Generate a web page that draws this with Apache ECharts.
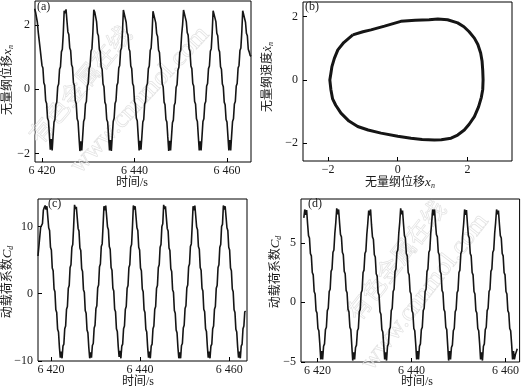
<!DOCTYPE html>
<html><head><meta charset="utf-8">
<script src="https://cdn.jsdelivr.net/npm/echarts@6/dist/echarts.min.js"></script>
<style>html,body{margin:0;padding:0;background:#fff}#c{width:522px;height:388px}</style>
</head><body><div id="c"></div>
<script>
// ---------- data ----------
// (a) dimensionless displacement vs time, sampled every 0.2 s from aStart
const aStart = 6418.4, aStep = 0.2;
const aValues = [
 2.5, 2.4, 2.46, 2.08, 1.76, 1.7, 1.26, 1.2, 0.74, 0.66, 0.2, 0.12, -0.36, -0.44, -0.9, -0.98, -1.42, -1.88, -1.55, -1.9, -1.44, -1.02, -0.94, -0.48, -0.4, 0.08, 0.16, 0.62, 0.7, 1.16, 1.24, 1.72,
 2.44, 2.36, 2.48, 2.12, 1.78, 1.7, 1.28, 1.2, 0.76, 0.68, 0.2, 0.12, -0.36, -0.44, -0.92, -1.0, -1.48, -1.92, -1.62, -1.9, -1.46, -1.0, -0.92, -0.46, -0.38, 0.1, 0.18, 0.64, 0.72, 1.18, 1.26, 1.76,
 2.47, 2.4, 2.46, 2.1, 1.74, 1.66, 1.24, 1.16, 0.7, 0.62, 0.16, 0.08, -0.4, -0.48, -0.94, -1.02, -1.46, -1.9, -1.58, -1.92, -1.44, -1.0, -0.9, -0.44, -0.36, 0.12, 0.2, 0.66, 0.74, 1.2, 1.28, 1.78,
 2.46, 2.5, 2.42, 2.08, 1.76, 1.68, 1.26, 1.18, 0.72, 0.64, 0.18, 0.1, -0.38, -0.46, -0.9, -0.98, -1.44, -1.9, -1.6, -1.88, -1.46, -1.02, -0.94, -0.46, -0.38, 0.1, 0.18, 0.64, 0.72, 1.2, 1.28, 1.74,
 2.42, 2.48, 2.4, 2.06, 1.72, 1.64, 1.22, 1.14, 0.7, 0.62, 0.16, 0.08, -0.4, -0.48, -0.94, -1.02, -1.48, -1.92, -1.6, -1.9, -1.48, -1.04, -0.96, -0.5, -0.42, 0.06, 0.14, 0.6, 0.68, 1.14, 1.22, 1.7, 2.0,
 2.46, 2.4, 2.48, 2.1, 1.76, 1.68, 1.26, 1.18, 0.72, 0.64, 0.18, 0.1, -0.38, -0.46, -0.92, -1.0, -1.46, -1.9, -1.62, -1.9, -1.46, -1.0, -0.92, -0.46, -0.38, 0.1, 0.18, 0.64, 0.72, 1.18, 1.26, 1.76,
 2.44, 2.38, 2.46, 2.1, 1.74, 1.66, 1.24, 1.16, 0.7, 0.62, 0.16, 0.08, -0.4, -0.48, -0.94, -1.02, -1.46, -1.9, -1.58, -1.9, -1.44, -1.0, -0.92, -0.46, -0.38, 0.1, 0.18, 0.66, 0.74, 1.2, 1.28, 1.78,
 2.44, 2.48, 2.4, 2.08, 1.74, 1.66, 1.24, 1.16, 1.05, 1.02
];
// (b) phase portrait: displacement / velocity around the limit cycle
const bX = [-1.29, -1.0, -0.77, -0.38, 0.09, 0.5, 0.9, 1.15, 1.43, 1.72, 1.9, 2.05, 2.2, 2.3, 2.38, 2.42, 2.44, 2.45, 2.44, 2.4, 2.32, 2.2, 2.05, 1.91, 1.72, 1.53, 1.25, 1.05, 0.7, 0.38, 0.0, -0.48, -0.85, -1.15, -1.4, -1.63, -1.78, -1.87, -1.92, -1.95, -1.92, -1.89, -1.82, -1.72, -1.55, -1.4, -1.29];
const bV = [1.42, 1.52, 1.58, 1.70, 1.85, 1.88, 1.9, 1.92, 1.9, 1.80, 1.68, 1.52, 1.32, 1.12, 0.85, 0.6, 0.3, 0.0, -0.3, -0.55, -0.85, -1.16, -1.4, -1.58, -1.74, -1.84, -1.89, -1.9, -1.88, -1.84, -1.78, -1.68, -1.58, -1.47, -1.3, -1.05, -0.8, -0.6, -0.3, 0.0, 0.2, 0.42, 0.68, 0.95, 1.18, 1.32, 1.42];
// (c) dynamic load coefficient vs time
const cStart = 6417.1, cStep = 0.2;
const cValues = [
 5.6, 5.7, 5.8, 9.9, 10.1, 10.4, 12.4, 12.8,
 13.1, 12.5, 13.0, 11.4, 9.8, 9.4, 6.9, 6.5, 3.8, 3.4, 0.7, 0.3, -2.4, -2.8, -5.3, -5.7, -7.9, -9.5, -8.6, -9.6, -7.8, -7.5, -5.2, -4.8, -2.3, -1.9, 0.8, 1.2, 3.9, 4.3, 6.9, 7.3, 10.0,
 13.2, 12.6, 12.9, 11.3, 9.7, 9.3, 6.8, 6.4, 3.7, 3.3, 0.6, 0.2, -2.5, -2.9, -5.4, -5.8, -8.0, -9.6, -8.7, -9.5, -7.7, -7.4, -5.1, -4.7, -2.2, -1.8, 0.9, 1.3, 4.0, 4.4, 7.0, 7.4, 10.1,
 13.0, 12.4, 13.1, 11.5, 9.9, 9.5, 7.0, 6.6, 3.9, 3.5, 0.8, 0.4, -2.3, -2.7, -5.2, -5.6, -7.8, -9.4, -8.5, -9.6, -7.8, -7.5, -5.2, -4.8, -2.3, -1.9, 0.8, 1.2, 3.9, 4.3, 6.9, 7.3, 10.0,
 13.1, 12.5, 13.0, 11.4, 9.8, 9.4, 6.9, 6.5, 3.8, 3.4, 0.7, 0.3, -2.4, -2.8, -5.3, -5.7, -7.9, -9.5, -8.6, -9.6, -7.8, -7.5, -5.2, -4.8, -2.3, -1.9, 0.8, 1.2, 3.9, 4.3, 6.9, 7.3, 10.0, 10.4,
 13.2, 12.6, 13.0, 11.3, 9.7, 9.3, 6.8, 6.4, 3.7, 3.3, 0.6, 0.2, -2.5, -2.9, -5.4, -5.8, -8.0, -9.6, -8.7, -9.6, -7.7, -7.4, -5.1, -4.7, -2.2, -1.8, 0.9, 1.3, 4.0, 4.4, 7.0, 7.4, 10.1,
 13.0, 12.4, 13.1, 11.5, 9.9, 9.5, 7.0, 6.6, 3.9, 3.5, 0.8, 0.4, -2.3, -2.7, -5.2, -5.6, -7.8, -9.5, -8.6, -9.6, -7.8, -7.5, -5.2, -4.8, -2.3, -1.9, 0.8, 1.2, 3.9, 4.3, 6.9, 7.3, 10.0, 10.3,
 13.1, 12.5, 13.0, 11.4, 9.8, 9.4, 6.9, 6.5, 3.8, 3.4, 0.7, 0.3, -2.4, -2.8, -5.3, -5.7, -7.9, -9.5, -8.6, -9.6, -7.8, -7.5, -5.2, -4.8, -2.7, -2.6
];
// (d) dynamic load coefficient vs time (second case)
const dStart = 6417.1, dStep = 0.2;
const dValues = [
 7.1,
 7.8, 7.35, 7.75, 6.6, 5.6, 5.4, 4.1, 3.9, 2.5, 2.3, 0.9, 0.7, -0.7, -0.9, -2.2, -2.4, -3.5, -4.8, -4.1, -4.8, -3.7, -3.5, -2.3, -2.1, -0.7, -0.5, 0.9, 1.1, 2.6, 2.8, 4.2, 4.4, 5.8, 6.7,
 7.9, 7.4, 7.8, 6.7, 5.7, 5.5, 4.2, 4.0, 2.6, 2.4, 1.0, 0.8, -0.6, -0.8, -2.1, -2.3, -3.6, -4.9, -4.2, -4.8, -3.8, -3.6, -2.4, -2.2, -0.8, -0.6, 0.8, 1.0, 2.5, 2.7, 4.1, 4.3, 5.7, 6.6,
 7.7, 7.3, 7.8, 6.5, 5.5, 5.3, 4.0, 3.8, 2.4, 2.2, 0.8, 0.6, -0.8, -1.0, -2.3, -2.5, -3.6, -4.8, -4.2, -4.9, -3.7, -3.5, -2.3, -2.1, -0.7, -0.5, 0.9, 1.1, 2.6, 2.8, 4.2, 4.4, 5.8, 6.7,
 7.9, 7.4, 7.7, 6.6, 5.6, 5.4, 4.1, 3.9, 2.5, 2.3, 0.9, 0.7, -0.7, -0.9, -2.2, -2.4, -3.5, -4.8, -4.1, -4.8, -3.7, -3.5, -2.3, -2.1, -0.7, -0.5, 0.9, 1.1, 2.6, 2.8, 4.2, 4.4, 5.8, 6.7,
 7.8, 7.3, 7.8, 6.7, 5.7, 5.5, 4.2, 4.0, 2.6, 2.4, 1.0, 0.8, -0.6, -0.8, -2.1, -2.3, -3.6, -4.9, -4.1, -4.8, -3.8, -3.6, -2.4, -2.2, -0.8, -0.6, 0.8, 1.0, 2.5, 2.7, 4.1, 4.3, 5.7, 6.6,
 7.8, 7.35, 7.75, 6.6, 5.6, 5.4, 4.1, 3.9, 2.5, 2.3, 0.9, 0.7, -0.7, -0.9, -2.2, -2.4, -3.5, -4.8, -4.2, -4.9, -3.7, -3.5, -2.3, -2.1, -0.7, -0.5, 0.9, 1.1, 2.6, 2.8, 4.2, 4.4, 5.8, 6.7,
 7.8, 7.4, 7.7, 6.6, 5.6, 5.4, 4.1, 3.9, 2.5, 2.3, 0.9, 0.7, -0.7, -0.9, -2.2, -2.4, -3.5, -4.8, -4.1, -4.8, -4.4, -4.3, -3.9
];
// tick labels
const timeTicks = [6420, 6440, 6460];
const aYTicks = [-2, 0, 2];
const bXTicks = [-2, 0, 2];
const bYTicks = [-2, 0, 2];
const cYTicks = [-10, 0, 10];
const dYTicks = [-5, 0, 5];
// texts
const panelLabels = ['(a)', '(b)', '(c)', '(d)'];
const timeName = '时间/s';
const dispName = '无量纲位移';
const velName = '无量纲速度';
const loadName = '动载荷系数';

// ---------- chart ----------
const chart = echarts.init(document.getElementById('c'), null, {renderer: 'canvas'});
const SERIF = "'Liberation Serif', 'DejaVu Serif', 'Noto Sans CJK SC', serif";
const fmtNum = v => {
  let s = String(Math.abs(v));
  if (s.length === 4) s = s[0] + ' ' + s.slice(1);
  return (v < 0 ? '\u2212' : '') + s;
};
const toPairs = (start, step, vals) => vals.map((v, i) => [+(start + i * step).toFixed(2), v]);

function xAxis(gi, min, max, ticks) {
  return {
    type: 'value', gridIndex: gi, min, max, position: 'bottom',
    axisLine: {show: false, onZero: false}, splitLine: {show: false},
    axisTick: {show: true, inside: true, length: 4, customValues: ticks, lineStyle: {color: '#000'}},
    axisLabel: {customValues: ticks, formatter: fmtNum, fontFamily: SERIF, fontSize: 12, color: '#1a1a1a', margin: 3}
  };
}
function yAxis(gi, min, max, ticks) {
  return {
    type: 'value', gridIndex: gi, min, max, position: 'left',
    axisLine: {show: false, onZero: false}, splitLine: {show: false},
    axisTick: {show: true, inside: true, length: 4, customValues: ticks, lineStyle: {color: '#000'}},
    axisLabel: {customValues: ticks, formatter: fmtNum, fontFamily: SERIF, fontSize: 12, color: '#1a1a1a', margin: 5}
  };
}
const gridBase = {show: true, borderColor: '#000', borderWidth: 1, backgroundColor: 'transparent', containLabel: false};
const lineSeries = (xi, data, w) => ({
  type: 'line', xAxisIndex: xi, yAxisIndex: xi, data, showSymbol: false, symbol: 'none',
  lineStyle: {color: '#151515', width: w}, clip: true, animation: false, z: 5
});

const rich = {
  i: {fontFamily: SERIF, fontStyle: 'italic', fontSize: 13, color: '#1a1a1a'},
  s: {fontFamily: SERIF, fontStyle: 'italic', fontSize: 8, color: '#1a1a1a', verticalAlign: 'bottom', padding: [6, 0, 0, 0]}
};
function label(text, x, y, vertical) {
  return {
    type: 'text', x, y, rotation: vertical ? Math.PI / 2 : 0, z: 10,
    style: {text, fontFamily: SERIF, fontSize: 12, fill: '#1a1a1a', align: 'center', verticalAlign: 'middle', rich}
  };
}
function tag(text, x, y) {
  return {type: 'text', x, y, z: 10, style: {text, fontFamily: SERIF, fontSize: 12, fill: '#1a1a1a', align: 'left', verticalAlign: 'top'}};
}
function mark(text, x, y, ang, size) {
  return {type: 'text', x, y, rotation: ang * Math.PI / 180, z: 0, silent: true,
    style: {text, fontFamily: SERIF, fontSize: size, fill: 'rgba(0,0,0,0)', stroke: '#e2e2e2', lineWidth: 0.7, align: 'center', verticalAlign: 'middle'}};
}

chart.setOption({
  animation: false,
  backgroundColor: '#fff',
  grid: [
    Object.assign({left: 35, top: 1, width: 216, height: 161}, gridBase),
    Object.assign({left: 303, top: 2, width: 209, height: 159}, gridBase),
    Object.assign({left: 38, top: 199, width: 209, height: 162}, gridBase),
    Object.assign({left: 301, top: 199, width: 220, height: 163}, gridBase)
  ],
  xAxis: [
    xAxis(0, 6418.49, 6465.19, timeTicks),
    xAxis(1, -2.72, 3.28, bXTicks),
    xAxis(2, 6417.1, 6464.0, timeTicks),
    xAxis(3, 6416.5, 6463.0, timeTicks)
  ],
  yAxis: [
    yAxis(0, -2.26, 2.74, aYTicks),
    yAxis(1, -2.56, 2.46, bYTicks),
    yAxis(2, -10, 14.07, cYTicks),
    yAxis(3, -5.02, 8.68, dYTicks)
  ],
  series: [
    lineSeries(0, toPairs(aStart, aStep, aValues), 1.6),
    lineSeries(1, bX.map((x, i) => [x, bV[i]]), 3),
    lineSeries(2, toPairs(cStart, cStep, cValues), 1.6),
    lineSeries(3, toPairs(dStart, dStep, dValues), 1.6)
  ],
  graphic: [
    mark('有色金属在线', 82, 86, 50, 24),
    mark('www.cnnmol.com', 140, 100, 47, 26),
    mark('有色金属在线', 398, 262, 52, 24),
    mark('www.cnnmol.com', 425, 292, 52, 26),
    tag(panelLabels[0], 37, 1),
    tag(panelLabels[1], 305, 1),
    tag(panelLabels[2], 48, 198),
    tag(panelLabels[3], 308, 198),
    label(dispName + '{i|x}{s|n}', 8, 80, true),
    label(timeName, 132, 183, false),
    label(velName + '{i|\u1E8B}{s|n}', 268, 77, true),
    label(dispName + '{i|x}{s|n}', 400, 183, false),
    label(loadName + '{i|C}{s|d}', 8, 282, true),
    label(timeName, 138, 382, false),
    label(loadName + '{i|C}{s|d}', 276, 272, true),
    label(timeName, 417, 382, false)
  ]
});
</script>
</body></html>
